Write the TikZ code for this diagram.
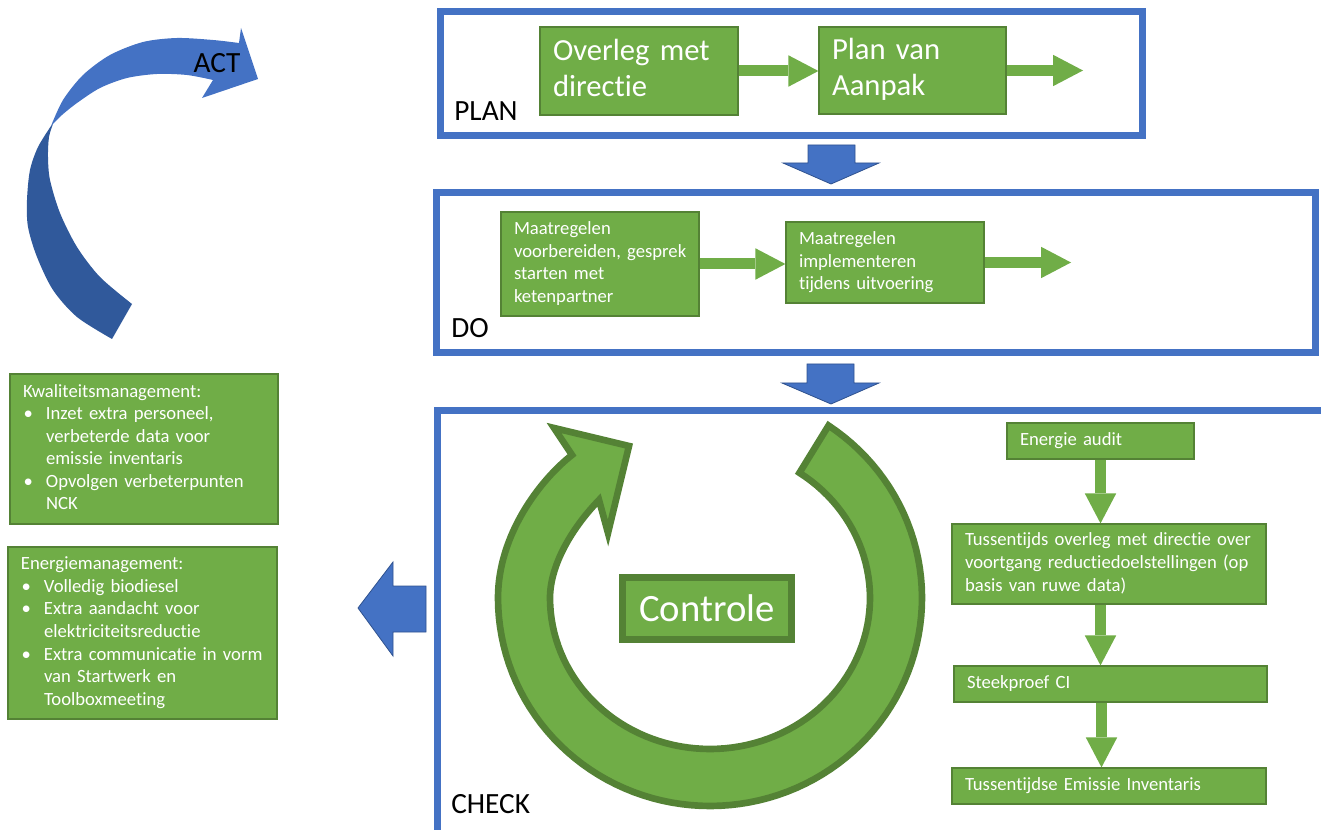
\documentclass[tikz,border=0pt]{standalone}
\usepackage{fontspec}
\setmainfont{Carlito}[Ligatures=NoCommon]
\usetikzlibrary{arrows.meta,calc}
\definecolor{gfill}{HTML}{70AD47}
\definecolor{gdark}{HTML}{548235}
\definecolor{bfill}{HTML}{4472C4}
\definecolor{bdark}{HTML}{2F528F}
\definecolor{bback}{HTML}{30599B}
\newcommand{\mylines}[1]{\noindent\begin{tabular}{@{}l@{}}#1\end{tabular}}
\newcommand{\mybul}{\makebox[17.25pt][l]{\hspace{0.5pt}•}}
\newcommand{\myind}{\hspace*{17.25pt}}
\tikzset{
  frame/.style={draw=bfill, line width=5.25pt, inner sep=0pt},
  gbox/.style={draw=gdark, line width=0.9pt, fill=gfill, text=white, align=left,
    inner xsep=9.75pt, inner ysep=0pt, font=\fontsize{14pt}{16.9pt}\selectfont},
  gbig/.style={gbox, font=\fontsize{23pt}{27pt}\selectfont},
  garrow/.style={draw=gfill, line width=8.25pt,
    -{Triangle[length=22.5pt,width=23.6pt,line width=0pt]}},
  phase/.style={font=\fontsize{22pt}{26pt}\selectfont, inner sep=0pt},
  bblock/.style={fill=bfill, draw=bdark, line width=0.6pt},
  ring/.style={fill=gfill, draw=gdark, line width=5pt, line join=miter}
}
\begin{document}
\begin{tikzpicture}[x=0.75pt, y=-0.75pt]
\useasboundingbox (0,0) rectangle (1321,830);
\clip (0,0) rectangle (1321,830);

% ---------- phase frames ----------
\node[frame, minimum width=526.5pt, minimum height=93pt] (planf) at (791.5,73.5) {};
\node[frame, minimum width=659.6pt, minimum height=120pt] (dof) at (876.25,273) {};
\node[frame, minimum width=680.6pt, minimum height=316.5pt] (checkf) at (891.25,622) {};

\node[phase, anchor=west] (planlbl) at (454,111) {PLAN};
\node[phase, anchor=west] (dolbl) at (451,328) {DO};
\node[phase, anchor=west] (checklbl) at (451,804) {CHECK};

% ---------- blue block arrows ----------
\draw[bblock] (808,145) -- (855,145) -- (855,163) -- (879,163) -- (831,184) -- (783,163) -- (808,163) -- cycle;
\draw[bblock] (807,364) -- (854,364) -- (854,383) -- (879,383) -- (831,404) -- (782,383) -- (807,383) -- cycle;
\draw[bblock] (426,586) -- (426,632) -- (393,632) -- (393,656) -- (358,608) -- (393,562) -- (393,586) -- cycle;

% ---------- ACT curved arrow ----------
\fill[bback] plot[smooth] coordinates {(51,126) (38,147) (30,170) (27,200) (28,227) (37,257) (53,290) (77,317) (112,339)}
  -- (132,304)
  -- plot[smooth] coordinates {(132,304) (100,277) (77,247) (60,213) (50,180) (48,157) (49,137) (53,124)} -- cycle;
\fill[bfill] plot[smooth] coordinates {(51,126) (63,100) (83,75) (110,55) (143,42) (177,38) (213,40) (239,43)}
  -- (241,28) -- (258,79) -- (202,98) -- (213,80)
  -- plot[smooth] coordinates {(213,80) (187,75) (157,74) (127,78) (100,88) (77,103) (62,115) (53,124)} -- cycle;
\node[phase] (act) at (217,63) {ACT};

% ---------- PLAN content ----------
\node[gbig, text width=129pt, minimum height=66pt] (overleg) at (639,71) {\mylines{Overleg met\\directie}};
\node[gbig, text width=120.75pt, minimum height=65.25pt] (aanpak) at (912.5,70.5) {\mylines{Plan van\\Aanpak}};
\coordinate (planend) at (1083,71);
\draw[garrow] (overleg.east) -- (overleg.east -| aanpak.west);
\draw[garrow] (aanpak.east) -- (aanpak.east -| planend);

% ---------- DO content ----------
\node[gbox, text width=129pt, minimum height=78pt] (prep) at (600,264) {\mylines{Maatregelen\\voorbereiden, gesprek\\starten met\\ketenpartner}};
\node[gbox, text width=129pt, minimum height=60.75pt] (impl) at (885,262.5) {\mylines{Maatregelen\\implementeren\\tijdens uitvoering}};
\coordinate (doend) at (1071,263);
\draw[garrow] (prep.east) -- (prep.east -| impl.west);
\draw[garrow] (impl.east) -- (impl.east -| doend);

% ---------- CHECK: circular arrow ----------
\draw[ring] plot[domain=-56:180, samples=90, variable=\t] ({710+212*cos(\t)}, {598+208*sin(\t)})
  .. controls (498,535) and (540,480) .. (572,455)
  -- (554,428) -- (629,446) -- (608,533) -- (599,500)
  .. controls (572,528) and (550,565) .. (550,598)
  -- plot[domain=180:-56, samples=90, variable=\t] ({710+160*cos(\t)}, {598+151*sin(\t)})
  -- cycle;
\node[draw=gdark, line width=5.25pt, fill=gfill, text=white, inner sep=0pt,
  minimum width=126.75pt, minimum height=46.5pt,
  font=\fontsize{29pt}{35pt}\selectfont] (controle) at (707,608.5) {Controle};

% ---------- CHECK: flow ----------
\node[gbox, text width=120.75pt, minimum height=27pt] (audit) at (1100.5,441) {\mylines{Energie audit}};
\node[gbox, text width=216pt, minimum height=60pt] (tuss) at (1109,564) {\mylines{Tussentijds overleg met directie over\\voortgang reductiedoelstellingen (op\\basis van ruwe data)}};
\node[gbox, text width=215.25pt, minimum height=27pt] (steek) at (1110.5,684) {\mylines{Steekproef CI}};
\node[gbox, text width=216pt, minimum height=27pt] (emis) at (1109,786) {\mylines{Tussentijdse Emissie Inventaris}};
\draw[garrow] (audit.south) -- (audit.south |- tuss.north);
\draw[garrow] (tuss.south -| audit.south) -- (audit.south |- steek.north);
\draw[garrow] ($(steek.south -| audit.south)+(1,0)$) -- ($(audit.south |- emis.north)+(1,0)$);

% ---------- ACT content ----------
\node[gbox, text width=181.5pt, minimum height=112.5pt] (kwal) at (144,449) {\mylines{Kwaliteitsmanagement:\\
\mybul Inzet extra personeel,\\
\myind verbeterde data voor\\
\myind emissie inventaris\\
\mybul Opvolgen verbeterpunten\\
\myind NCK}};
\node[gbox, text width=182.25pt, minimum height=129pt] (energie) at (142.5,633) {\mylines{Energiemanagement:\\
\mybul Volledig biodiesel\\
\mybul Extra aandacht voor\\
\myind elektriciteitsreductie\\
\mybul Extra communicatie in vorm\\
\myind van Startwerk en\\
\myind Toolboxmeeting}};
\end{tikzpicture}
\end{document}
